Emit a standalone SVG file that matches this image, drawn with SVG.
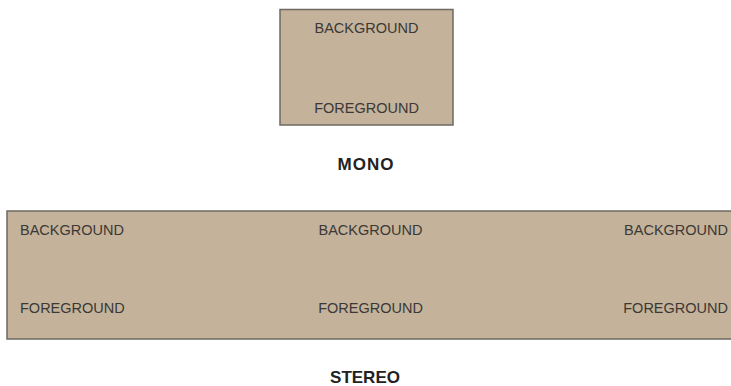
<svg xmlns="http://www.w3.org/2000/svg" width="731" height="386" viewBox="0 0 731 386">
<style>
.box{fill:#c4b39a;stroke:#6e6862;stroke-width:1.5}
.lbl{font-family:"Liberation Sans",Arial,sans-serif;font-size:14.5px;fill:#3b3836}
.ttl{font-family:"Liberation Sans",Arial,sans-serif;font-size:17px;font-weight:bold;fill:#222}
</style>
<rect width="731" height="386" fill="#fff"/>
<g id="mono">
<rect class="box" x="280" y="9.5" width="173" height="115.5"/>
<text class="lbl" x="366.5" y="33" text-anchor="middle">BACKGROUND</text>
<text class="lbl" x="366.5" y="113" text-anchor="middle">FOREGROUND</text>
<text class="ttl" x="366" y="170" text-anchor="middle" letter-spacing="1">MONO</text>
</g>
<g id="stereo">
<rect class="box" x="7" y="211" width="740" height="128"/>
<text class="lbl" x="20" y="235">BACKGROUND</text>
<text class="lbl" x="20" y="313">FOREGROUND</text>
<text class="lbl" x="370.5" y="235" text-anchor="middle">BACKGROUND</text>
<text class="lbl" x="370.5" y="313" text-anchor="middle">FOREGROUND</text>
<text class="lbl" x="728" y="235" text-anchor="end">BACKGROUND</text>
<text class="lbl" x="728" y="313" text-anchor="end">FOREGROUND</text>
<text class="ttl" x="365" y="383" text-anchor="middle">STEREO</text>
</g>
<g id="connectors"/>
</svg>
